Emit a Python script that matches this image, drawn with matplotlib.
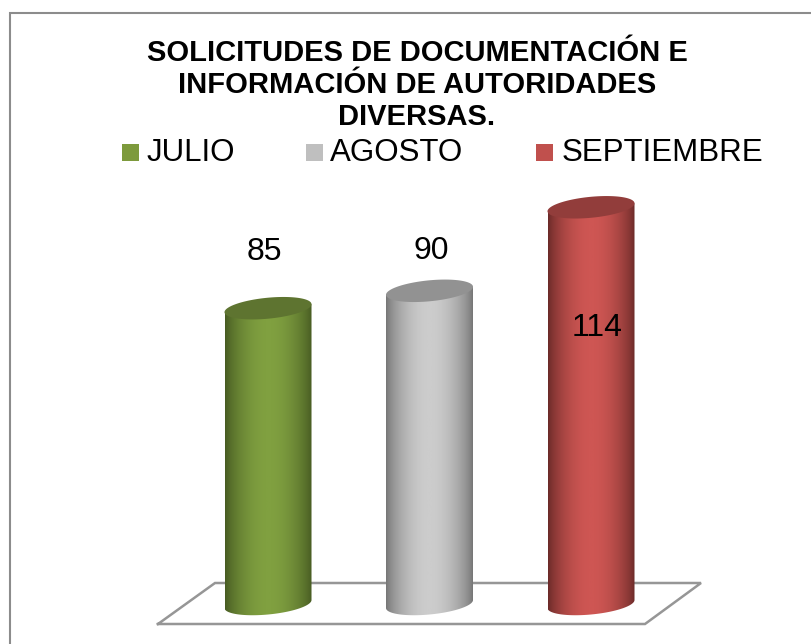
import numpy as np
import matplotlib
matplotlib.use("Agg")
import matplotlib.pyplot as plt
from matplotlib.colors import LinearSegmentedColormap
from matplotlib.patches import Polygon, Rectangle

plt.rcParams['font.family'] = ['Liberation Sans', 'DejaVu Sans']

months = ["JULIO", "AGOSTO", "SEPTIEMBRE"]
values = [85, 90, 114]
title = "SOLICITUDES DE DOCUMENTACIÓN E\nINFORMACIÓN DE AUTORIDADES\nDIVERSAS."

W, H = 811, 644
px_per_unit = 3.48
y0_px = 604      # baseline, pixels from top
x0_px = 268      # first cylinder centre
dx_px = 161.5
half_w = 43.5 / dx_px
ry = 10.5
tilt = 4.0

main_colors = ["#80A040", "#CCCCCC", "#CE5653"]
dark_colors = ["#465A22", "#767676", "#6A2A28"]
top_colors = ["#5E7430", "#929292", "#923D3B"]
legend_colors = ["#7D9A3C", "#BFBFBF", "#C0504D"]
label_offsets = [(-4, 56), (2, 40), (6, -121)]

fig = plt.figure(figsize=(W / 100, H / 100), dpi=100)
ax = fig.add_axes([0, 0, 1, 1])
ax.axis("off")


def to_x(px):
    return (px - x0_px) / dx_px


def to_y(px):
    return (y0_px - px) / px_per_unit


# chart frame, only top and left are inside the picture
ax.plot([to_x(9.5), to_x(9.5), to_x(811)], [to_y(644), to_y(12.5), to_y(12.5)],
        color="#8C8C8C", lw=1.5, solid_joinstyle="miter")

# floor
floor_x = [to_x(158), to_x(215), to_x(701), to_x(645), to_x(158)]
floor_y = [to_y(624), to_y(583), to_y(583), to_y(624), to_y(624)]
ax.plot(floor_x, floor_y, color="#969696", lw=1.8, solid_joinstyle="miter")

t = np.linspace(0, 2 * np.pi, 200)
t_front = np.linspace(0, np.pi, 100)
cyl_shade = np.sin(np.linspace(0, np.pi, 128)) ** 0.75

for i, v in enumerate(values):
    # body outline with the rounded bottom
    xb = i + half_w * np.cos(t_front)
    yb = (tilt * np.cos(t_front) - ry * np.sin(t_front)) / px_per_unit
    xs = np.r_[i + half_w, xb, i - half_w]
    ys = np.r_[v + tilt / px_per_unit, yb, v - tilt / px_per_unit]
    body = Polygon(np.c_[xs, ys], closed=True, fc="none", ec="none")
    ax.add_patch(body)
    cmap = LinearSegmentedColormap.from_list("c", [dark_colors[i], main_colors[i]])
    im = ax.imshow(cyl_shade[None, :], extent=(i - half_w, i + half_w, -4, v + 3), cmap=cmap,
                   vmin=0, vmax=1, aspect="auto", zorder=2)
    im.set_clip_path(body)
    # top ellipse
    xt = i + half_w * np.cos(t)
    yt = v + (ry * np.sin(t) + tilt * np.cos(t)) / px_per_unit
    ax.fill(xt, yt, color=top_colors[i], lw=0, zorder=3)
    ax.annotate(str(v), (i, v), xytext=label_offsets[i], textcoords="offset pixels",
                ha="center", va="center", fontsize=23, color="black", zorder=4)

ax.text(to_x(417), to_y(85), title, ha="center", va="center", fontsize=21,
        fontweight="bold", linespacing=1.16)

# legend
legend_sq = [122, 306, 536]
legend_txt = [147, 330, 562]
for i, m in enumerate(months):
    ax.add_patch(Rectangle((to_x(legend_sq[i]), to_y(161)), 17 / dx_px, 17 / px_per_unit,
                           fc=legend_colors[i], ec="none"))
    ax.text(to_x(legend_txt[i]), to_y(153), m, ha="left", va="center", fontsize=22.5)

ax.set_xlim(-x0_px / dx_px, (W - x0_px) / dx_px)
ax.set_ylim(-(H - y0_px) / px_per_unit, y0_px / px_per_unit)

fig.savefig("out.png", dpi=100)
